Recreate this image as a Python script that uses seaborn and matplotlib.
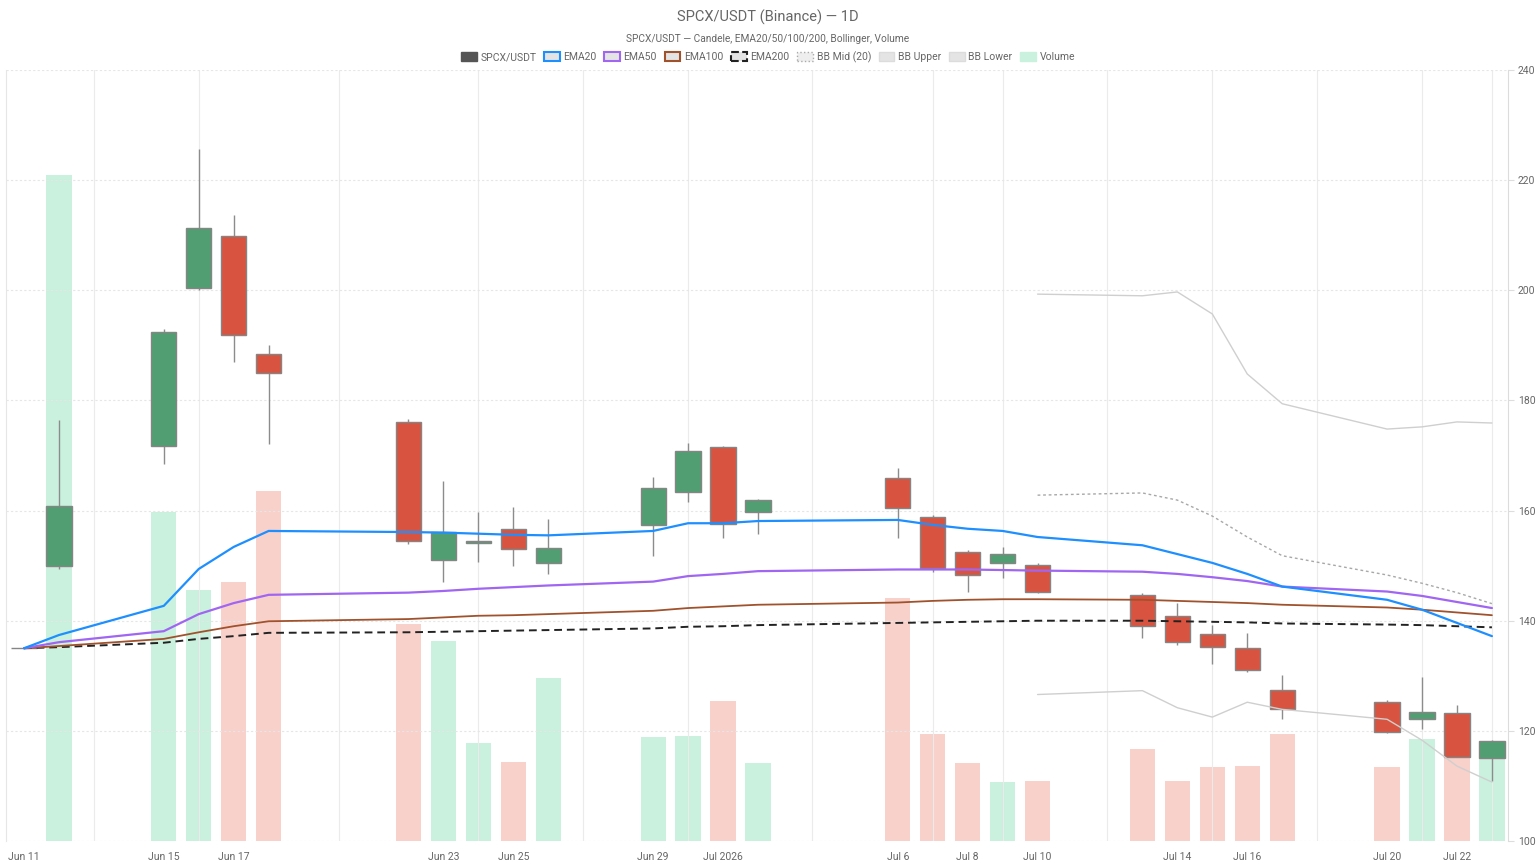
import numpy as np
import pandas as pd
import matplotlib
matplotlib.use("Agg")
import matplotlib.pyplot as plt
import matplotlib.dates as mdates
from matplotlib.patches import Patch
import seaborn as sns

# daily candles (gaps are real: no data on those days)
dates = ["2026-06-11", "2026-06-12", "2026-06-15", "2026-06-16", "2026-06-17", "2026-06-18",
         "2026-06-22", "2026-06-23", "2026-06-24", "2026-06-25", "2026-06-26",
         "2026-06-29", "2026-06-30", "2026-07-01", "2026-07-02",
         "2026-07-06", "2026-07-07", "2026-07-08", "2026-07-09", "2026-07-10",
         "2026-07-13", "2026-07-14", "2026-07-15", "2026-07-16", "2026-07-17",
         "2026-07-20", "2026-07-21", "2026-07-22", "2026-07-23"]
opens = [135.0, 150.0, 171.7, 200.4, 209.9, 188.4, 176.0, 151.0, 154.1, 156.6, 150.5,
         157.3, 163.4, 171.5, 159.7, 166.0, 158.9, 152.5, 150.4, 150.1,
         144.7, 140.9, 137.5, 135.0, 127.4, 125.3, 122.1, 123.3, 115.1]
highs = [135.0, 176.4, 193.0, 225.7, 213.7, 190.0, 176.6, 165.4, 159.8, 160.6, 158.4,
         166.1, 172.3, 171.7, 162.1, 167.8, 159.2, 152.9, 153.4, 150.4,
         145.0, 143.2, 139.2, 137.7, 130.2, 125.6, 129.8, 124.7, 118.4]
lows = [135.0, 149.4, 168.5, 200.1, 187.0, 172.1, 154.0, 147.1, 150.7, 150.0, 148.5,
        151.8, 161.6, 155.1, 155.8, 155.1, 148.9, 145.3, 147.7, 145.1,
        136.8, 135.5, 132.1, 130.7, 122.1, 119.7, 120.3, 115.2, 110.9]
closes = [135.0, 160.8, 192.5, 211.4, 191.8, 185.0, 154.5, 156.1, 154.5, 153.0, 153.2,
          164.1, 170.9, 157.5, 162.0, 160.4, 149.5, 148.3, 152.1, 145.3,
          139.1, 136.1, 135.2, 131.1, 124.0, 119.8, 123.5, 115.3, 118.2]
volume_k = [0.0, 121.0, 59.7, 45.6, 47.0, 63.6, 39.4, 36.3, 17.8, 14.3, 29.6,
            18.9, 19.1, 25.4, 14.2, 44.1, 19.4, 14.2, 10.7, 10.9,
            16.7, 10.9, 13.5, 13.7, 19.5, 13.4, 18.6, 15.5, 15.0]

ema20 = [135.0, 137.4, 142.7, 149.4, 153.4, 156.3, 156.1, 156.0, 155.8, 155.6, 155.5,
         156.3, 157.7, 157.7, 158.1, 158.3, 157.4, 156.7, 156.3, 155.2,
         153.7, 152.1, 150.5, 148.5, 146.2, 143.8, 142.0, 139.6, 137.2]
ema50 = [135.0, 136.1, 138.1, 141.2, 143.2, 144.7, 145.1, 145.4, 145.8, 146.1, 146.4,
         147.1, 148.1, 148.5, 149.0, 149.3, 149.3, 149.3, 149.2, 149.1,
         148.9, 148.5, 147.9, 147.2, 146.2, 145.3, 144.5, 143.4, 142.3]
ema100 = [135.0, 135.4, 136.7, 137.9, 139.0, 139.9, 140.3, 140.6, 140.9, 141.0, 141.2,
          141.8, 142.3, 142.6, 142.9, 143.3, 143.6, 143.8, 143.9, 143.9,
          143.8, 143.6, 143.4, 143.2, 142.9, 142.4, 142.0, 141.5, 141.0]
ema200 = [135.0, 135.2, 136.0, 136.7, 137.2, 137.8, 137.9, 138.0, 138.1, 138.2, 138.3,
          138.6, 138.9, 139.0, 139.2, 139.6, 139.7, 139.8, 139.9, 140.0,
          140.0, 139.9, 139.8, 139.7, 139.5, 139.3, 139.2, 139.0, 138.8]
nan19 = [np.nan] * 19
bb_upper = nan19 + [199.3, 199.0, 199.7, 195.7, 184.8, 179.4, 174.8, 175.2, 176.1, 175.9]
bb_mid = nan19 + [162.8, 163.2, 161.9, 159.0, 155.2, 151.8, 148.3, 146.8, 145.1, 143.1]
bb_lower = nan19 + [126.6, 127.3, 124.2, 122.5, 125.2, 123.9, 122.1, 118.3, 113.6, 110.7]

tick_dates = ["2026-06-11", "2026-06-15", "2026-06-17", "2026-06-23", "2026-06-25", "2026-06-29",
              "2026-07-01", "2026-07-06", "2026-07-08", "2026-07-10", "2026-07-14", "2026-07-16",
              "2026-07-20", "2026-07-22"]
tick_labels = ["Jun 11", "Jun 15", "Jun 17", "Jun 23", "Jun 25", "Jun 29", "Jul 2026",
               "Jul 6", "Jul 8", "Jul 10", "Jul 14", "Jul 16", "Jul 20", "Jul 22"]
grid_dates = ["2026-06-13 00:00", "2026-06-16 00:00", "2026-06-20 00:00", "2026-06-24 00:00",
              "2026-06-27 00:00", "2026-06-30 00:00", "2026-07-03 13:00", "2026-07-07 00:00",
              "2026-07-09 00:00", "2026-07-12 00:00", "2026-07-15 00:00", "2026-07-18 00:00",
              "2026-07-21 00:00", "2026-07-23 00:00"]

GREEN = "#519e72"
RED = "#d95440"
VOL_GREEN = "#c9f1dd"
VOL_RED = "#f8d1cb"
TXT = "#666666"

df = pd.DataFrame({"date": pd.to_datetime(dates), "open": opens, "high": highs, "low": lows,
                   "close": closes, "volume": volume_k, "EMA20": ema20, "EMA50": ema50,
                   "EMA100": ema100, "EMA200": ema200, "BB Upper": bb_upper,
                   "BB Mid": bb_mid, "BB Lower": bb_lower})
df["x"] = mdates.date2num(df["date"])
df["up"] = df["close"] >= df["open"]

sns.set_theme(style="white")
plt.rcParams["font.family"] = ["Roboto", "DejaVu Sans"]

fig = plt.figure(figsize=(15.36, 8.64), dpi=100)
ax = fig.add_axes([6 / 1536, 1 - 841 / 864, 1502 / 1536, 771 / 864])
axv = ax.twinx()

# volume on its own hidden scale
vol_colors = [VOL_GREEN if u else VOL_RED for u in df["up"]]
axv.bar(df["x"], df["volume"], width=0.72, color=vol_colors, linewidth=0)
axv.set_ylim(0, 140)
axv.yaxis.set_visible(False)
for s in axv.spines.values():
    s.set_visible(False)

ax.set_zorder(axv.get_zorder() + 1)
ax.patch.set_visible(False)

# candles
ax.vlines(df["x"], df["low"], df["high"], color="#8c8c8c", linewidth=1.0, zorder=3)
body_lo = df[["open", "close"]].min(axis=1)
body_h = (df["close"] - df["open"]).abs()
body_colors = [GREEN if u else RED for u in df["up"]]
body_colors[0] = "#8c8c8c"
ax.bar(df["x"], body_h, bottom=body_lo, width=0.72, color=body_colors,
       edgecolor="#858585", linewidth=1.0, zorder=4)

# indicator lines
line_styles = [
    ("BB Upper", "#cfcfcf", 1.0, "-"),
    ("BB Lower", "#cfcfcf", 1.0, "-"),
    ("BB Mid", "#a8a8a8", 1.0, (0, (2, 2))),
    ("EMA200", "#222222", 1.4, (0, (4, 2.5))),
    ("EMA100", "#a0522d", 1.3, "-"),
    ("EMA50", "#a066f2", 1.6, "-"),
    ("EMA20", "#1e8fff", 1.6, "-"),
]
for name, col, lw, ls in line_styles:
    sub = df.dropna(subset=[name])
    sns.lineplot(data=sub, x="x", y=name, ax=ax, color=col, linewidth=lw,
                 linestyle=ls, estimator=None, errorbar=None, sort=False, zorder=5)

# axes / grid
ax.set_xlim(mdates.date2num(pd.Timestamp("2026-06-11")) - 0.515,
            mdates.date2num(pd.Timestamp("2026-07-23")) + 0.46)
ax.set_ylim(100, 240)
ax.set_yticks(range(100, 241, 20))
ax.yaxis.tick_right()
ax.set_xlabel("")
ax.set_ylabel("")
ax.grid(axis="y", color="#e6e6e6", linestyle=(0, (2, 2)), linewidth=0.8)

ax.set_xticks(mdates.date2num(pd.to_datetime(tick_dates)))
ax.set_xticklabels(tick_labels)
ax.set_xticks(mdates.date2num(pd.to_datetime(grid_dates)), minor=True)
ax.grid(axis="x", which="minor", color="#ebebeb", linewidth=0.8)
ax.tick_params(axis="x", which="major", length=0, pad=8, labelsize=7.5, labelcolor=TXT)
ax.tick_params(axis="x", which="minor", length=5, width=0.8, color="#dddddd", direction="out")
ax.tick_params(axis="y", length=4, width=0.8, color="#dddddd", pad=3,
               labelsize=7.5, labelcolor=TXT, right=True, left=False)

for side in ["top", "bottom"]:
    ax.spines[side].set_visible(False)
ax.spines["left"].set_color("#e6e6e6")
ax.spines["right"].set_color("#dcdcdc")
ax.spines["left"].set_linewidth(0.8)
ax.spines["right"].set_linewidth(0.8)

# titles
fig.text(0.5, 1 - 17 / 864, "SPCX/USDT (Binance) — 1D", ha="center", va="center",
         fontsize=10.5, color=TXT)
fig.text(0.5, 1 - 39 / 864, "SPCX/USDT — Candele, EMA20/50/100/200, Bollinger, Volume",
         ha="center", va="center", fontsize=7.3, color=TXT)

# legend
handles = [
    Patch(facecolor="#555555", edgecolor="#555555", label="SPCX/USDT"),
    Patch(facecolor="#e4e4e4", edgecolor="#1e8fff", linewidth=1.5, label="EMA20"),
    Patch(facecolor="#e4e4e4", edgecolor="#a066f2", linewidth=1.5, label="EMA50"),
    Patch(facecolor="#e4e4e4", edgecolor="#a0522d", linewidth=1.5, label="EMA100"),
    Patch(facecolor="#e4e4e4", edgecolor="#222222", linewidth=1.5, linestyle="--", label="EMA200"),
    Patch(facecolor="#eeeeee", edgecolor="#aaaaaa", linewidth=1.0, linestyle=":", label="BB Mid (20)"),
    Patch(facecolor="#e4e4e4", edgecolor="#dcdcdc", linewidth=1.0, label="BB Upper"),
    Patch(facecolor="#e4e4e4", edgecolor="#dcdcdc", linewidth=1.0, label="BB Lower"),
    Patch(facecolor=VOL_GREEN, edgecolor=VOL_GREEN, label="Volume"),
]
leg = fig.legend(handles=handles, loc="center", bbox_to_anchor=(0.5, 1 - 57 / 864), ncol=9,
                 frameon=False, fontsize=7.5, handlelength=1.5, handleheight=1.0,
                 handletextpad=0.35, columnspacing=0.75, labelcolor=TXT)

fig.savefig("out.png", dpi=100)
